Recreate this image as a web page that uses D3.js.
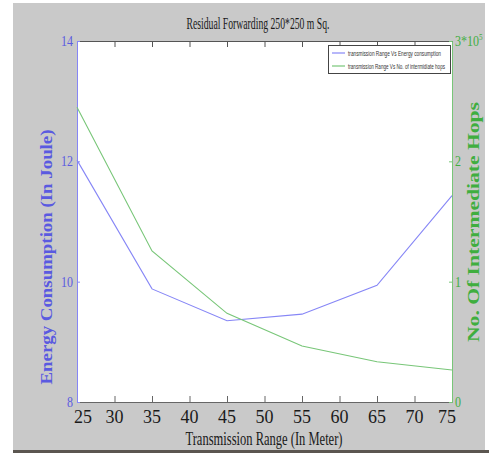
<!DOCTYPE html>
<html>
<head>
<meta charset="utf-8">
<script src="https://cdn.jsdelivr.net/npm/d3@7"></script>
<style>
  html, body { margin: 0; padding: 0; background: #fff; }
  svg { display: block; }
  text { font-family: "Liberation Serif", "DejaVu Serif", serif; }
  text.legend-text { font-family: "Liberation Sans", "DejaVu Sans", sans-serif; }
</style>
</head>
<body>
<svg id="chart" width="489" height="453"></svg>
<script>
// Transmission range (m)
const ranges = [25, 35, 45, 55, 65, 75];
// Energy consumption (Joule)
const energy = [12.02, 9.88, 9.35, 9.46, 9.94, 11.43];
// Number of intermediate hops (x 10^5)
const hops = [2.45, 1.255, 0.737, 0.465, 0.335, 0.266];

const xTicks = [25, 30, 35, 40, 45, 50, 55, 60, 65, 70, 75];
const leftTicks = [8, 10, 12, 14];
const rightTicks = [0, 1, 2, 3];
const rightTickLabels = ["0", "1", "2", "3*10"];

const svg = d3.select("#chart");
const W = 489, H = 453;
const m = { left: 77, right: 452, top: 41, bottom: 402 };

const blue = "#8686f6";
const green = "#78c678";
const blueText = "#5a5ae0";
const greenText = "#3fae3f";

// figure background
svg.append("rect").attr("x", 0).attr("y", 0).attr("width", W).attr("height", H).attr("fill", "#ffffff");
svg.append("rect").attr("x", 13).attr("y", 3).attr("width", 472).attr("height", 447).attr("fill", "#c9c9c9");
svg.append("rect").attr("x", 13).attr("y", 450).attr("width", 476).attr("height", 3).attr("fill", "#5b5650");

const x = d3.scaleLinear().domain([25, 75]).range([m.left, m.right]);
const yL = d3.scaleLinear().domain([8, 14]).range([m.bottom, m.top]);
const yR = d3.scaleLinear().domain([0, 3]).range([m.bottom, m.top]);

// plot area
svg.append("rect")
  .attr("x", m.left).attr("y", m.top)
  .attr("width", m.right - m.left).attr("height", m.bottom - m.top)
  .attr("fill", "#ffffff");

// bottom axis
const xAxisB = svg.append("g").attr("transform", `translate(0,${m.bottom})`)
  .call(d3.axisTop(x).tickValues(xTicks).tickSize(6).tickFormat(""));
xAxisB.select(".domain").attr("stroke", "#666");
xAxisB.selectAll(".tick line").attr("stroke", "#666");

// top axis
const xAxisT = svg.append("g").attr("transform", `translate(0,${m.top})`)
  .call(d3.axisBottom(x).tickValues(xTicks).tickSize(6).tickFormat(""));
xAxisT.select(".domain").attr("stroke", "#555");
xAxisT.selectAll(".tick line").attr("stroke", "#555");

// x tick labels
svg.append("g").selectAll("text").data(xTicks).join("text")
  .attr("x", d => x(d) + (d === 25 ? 6 : d === 75 ? -5 : 0))
  .attr("y", 423)
  .attr("text-anchor", "middle")
  .attr("font-size", 18)
  .attr("fill", "#1a1a1a")
  .text(d => d);

// left axis
const yAxisL = svg.append("g").attr("transform", `translate(${m.left},0)`)
  .call(d3.axisRight(yL).tickValues(leftTicks).tickSize(3).tickFormat(""));
yAxisL.select(".domain").attr("stroke", blue);
yAxisL.selectAll(".tick line").attr("stroke", blue);
svg.append("g").selectAll("text").data(leftTicks).join("text")
  .attr("x", m.left - 4)
  .attr("y", d => yL(d) + 5)
  .attr("text-anchor", "end")
  .attr("font-size", 15)
  .attr("fill", blueText)
  .attr("transform", d => `translate(${m.left - 4},${yL(d)}) scale(0.8,1) translate(${-(m.left - 4)},${-yL(d)})`)
  .text(d => d);

// right axis
const yAxisR = svg.append("g").attr("transform", `translate(${m.right},0)`)
  .call(d3.axisLeft(yR).tickValues(rightTicks).tickSize(3).tickFormat(""));
yAxisR.select(".domain").attr("stroke", green);
yAxisR.selectAll(".tick line").attr("stroke", green);
const rLab = svg.append("g").selectAll("text").data(rightTicks).join("text")
  .attr("x", m.right + 3)
  .attr("y", d => yR(d) + 5)
  .attr("font-size", 15)
  .attr("fill", greenText)
  .attr("transform", d => `translate(${m.right + 3},${yR(d)}) scale(0.8,1) translate(${-(m.right + 3)},${-yR(d)})`);
rLab.text((d, i) => rightTickLabels[i]);
rLab.filter(d => d === 3).append("tspan")
  .attr("dy", -6).attr("font-size", 9).text("5");

// data lines
const lineE = d3.line().x((d, i) => x(ranges[i])).y(d => yL(d));
const lineH = d3.line().x((d, i) => x(ranges[i])).y(d => yR(d));
svg.append("path").datum(energy).attr("d", lineE)
  .attr("fill", "none").attr("stroke", blue).attr("stroke-width", 1.1);
svg.append("path").datum(hops).attr("d", lineH)
  .attr("fill", "none").attr("stroke", green).attr("stroke-width", 1.1);

// title
svg.append("text")
  .attr("x", 258).attr("y", 29)
  .attr("text-anchor", "middle")
  .attr("font-size", 17)
  .attr("fill", "#1a1a1a")
  .attr("textLength", 143).attr("lengthAdjust", "spacingAndGlyphs")
  .text("Residual Forwarding 250*250 m Sq.");

// x axis title
svg.append("text")
  .attr("x", 264).attr("y", 445)
  .attr("text-anchor", "middle")
  .attr("font-size", 19)
  .attr("fill", "#1a1a1a")
  .attr("textLength", 157).attr("lengthAdjust", "spacingAndGlyphs")
  .text("Transmission Range (In Meter)");

// left y axis title
svg.append("text")
  .attr("transform", "translate(52,257) rotate(-90)")
  .attr("text-anchor", "middle")
  .attr("font-size", 16)
  .attr("font-weight", "bold")
  .attr("fill", blueText)
  .attr("textLength", 255).attr("lengthAdjust", "spacingAndGlyphs")
  .text("Energy Consumption (In Joule)");

// right y axis title
svg.append("text")
  .attr("transform", "translate(479,222) rotate(-90)")
  .attr("text-anchor", "middle")
  .attr("font-size", 16)
  .attr("font-weight", "bold")
  .attr("fill", greenText)
  .attr("textLength", 240).attr("lengthAdjust", "spacingAndGlyphs")
  .text("No. Of Intermediate Hops");

// legend
const leg = svg.append("g");
leg.append("rect")
  .attr("x", 328.5).attr("y", 45.5).attr("width", 122).attr("height", 28)
  .attr("fill", "#ffffff").attr("stroke", "#444").attr("stroke-width", 1);
const legendItems = [
  { label: "transmission Range Vs Energy consumption", color: blue, len: 93 },
  { label: "transmission Range Vs No. of intermidiate hops", color: green, len: 97 }
];
legendItems.forEach((it, i) => {
  const yy = 53 + i * 13;
  leg.append("line").attr("x1", 332).attr("x2", 345).attr("y1", yy).attr("y2", yy)
    .attr("stroke", it.color).attr("stroke-width", 1.2);
  leg.append("text").attr("class", "legend-text")
    .attr("x", 348).attr("y", yy + 2.5)
    .attr("font-size", 6.5).attr("fill", "#333")
    .attr("textLength", it.len).attr("lengthAdjust", "spacingAndGlyphs")
    .text(it.label);
});
</script>
</body>
</html>
